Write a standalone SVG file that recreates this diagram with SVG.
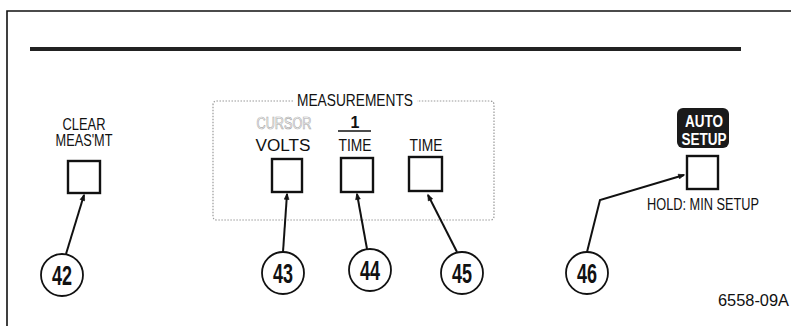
<svg xmlns="http://www.w3.org/2000/svg" width="791" height="326" viewBox="0 0 791 326">
<style>
.lbl{font-family:"Liberation Sans",Arial,sans-serif;font-size:16px;fill:#111;text-anchor:middle}
.num{font-family:"Liberation Sans",Arial,sans-serif;font-size:27px;font-weight:bold;fill:#111;text-anchor:middle}
.btn{fill:#fff;stroke:#111;stroke-width:2.4}
.circ{fill:#fff;stroke:#111;stroke-width:1.8}
.ln{fill:none;stroke:#111;stroke-width:2}
</style>
<defs>
<marker id="ah" viewBox="0 0 10 10" refX="9" refY="5" markerWidth="8" markerHeight="6" markerUnits="userSpaceOnUse" orient="auto">
<path d="M0,1 L10,5 L0,9 Z" fill="#111" stroke="#111" stroke-width="1"/>
</marker>
</defs>
<rect width="791" height="326" fill="#fff"/>
<g id="frame">
<path d="M7,326 V11 H791" fill="none" stroke="#111" stroke-width="1.6"/>
<rect x="30" y="47" width="711" height="4" fill="#222"/>
</g>
<g id="measurements-group">
<path d="M293,101 H217 Q213,101 213,105 V216 Q213,220 217,220 H490 Q494,220 494,216 V105 Q494,101 490,101 H417" fill="none" stroke="#999" stroke-width="1.2" stroke-dasharray="1.5 1.5"/>
<text class="lbl" x="355" y="106" font-size="15" textLength="116" lengthAdjust="spacingAndGlyphs">MEASUREMENTS</text>
</g>
<g id="clear-measmt">
<text class="lbl" x="84" y="130" font-size="14" textLength="43" lengthAdjust="spacingAndGlyphs">CLEAR</text>
<text class="lbl" x="84" y="146" font-size="14" textLength="57" lengthAdjust="spacingAndGlyphs">MEAS'MT</text>
<rect class="btn" x="68" y="161" width="32" height="32"/>
</g>
<g id="cursor-volts">
<text class="lbl" x="284" y="129" font-size="14" stroke="#aaa" stroke-width="0.7" textLength="55" lengthAdjust="spacingAndGlyphs" style="fill:#fff">CURSOR</text>
<text class="lbl" x="283" y="151" textLength="55" lengthAdjust="spacingAndGlyphs">VOLTS</text>
<rect class="btn" x="272" y="159" width="30" height="33"/>
</g>
<g id="one-over-time">
<text class="lbl" x="355" y="128" font-size="14" font-weight="bold">1</text>
<line x1="338" y1="131" x2="371" y2="131" stroke="#111" stroke-width="1.5"/>
<text class="lbl" x="355" y="151" textLength="33" lengthAdjust="spacingAndGlyphs">TIME</text>
<rect class="btn" x="341" y="158" width="32" height="34"/>
</g>
<g id="time">
<text class="lbl" x="426" y="151" textLength="33" lengthAdjust="spacingAndGlyphs">TIME</text>
<rect class="btn" x="409" y="157" width="33" height="34"/>
</g>
<g id="auto-setup">
<rect x="677" y="108" width="52" height="40" rx="6" fill="#1a1a1a"/>
<text class="lbl" x="704" y="127" font-size="18" font-weight="bold" style="fill:#fff" textLength="38" lengthAdjust="spacingAndGlyphs">AUTO</text>
<text class="lbl" x="704" y="145" font-size="18" font-weight="bold" style="fill:#fff" textLength="45" lengthAdjust="spacingAndGlyphs">SETUP</text>
<rect class="btn" x="687" y="156" width="31" height="33"/>
<text class="lbl" x="703" y="210" font-size="12" textLength="112" lengthAdjust="spacingAndGlyphs">HOLD: MIN SETUP</text>
</g>
<g id="connectors">
<line class="ln" x1="66" y1="254" x2="84" y2="195" marker-end="url(#ah)"/>
<line class="ln" x1="283" y1="252" x2="287" y2="194" marker-end="url(#ah)"/>
<line class="ln" x1="367" y1="249" x2="357" y2="194" marker-end="url(#ah)"/>
<line class="ln" x1="457" y1="252" x2="428" y2="195" marker-end="url(#ah)"/>
<polyline class="ln" points="587,252 600,200 684,175" marker-end="url(#ah)"/>
</g>
<g id="c42"><circle class="circ" cx="62" cy="275" r="21"/><text class="num" x="62" y="285" textLength="20" lengthAdjust="spacingAndGlyphs">42</text></g>
<g id="c43"><circle class="circ" cx="283" cy="273" r="21"/><text class="num" x="283" y="283" textLength="20" lengthAdjust="spacingAndGlyphs">43</text></g>
<g id="c44"><circle class="circ" cx="370" cy="270" r="21"/><text class="num" x="370" y="280" textLength="20" lengthAdjust="spacingAndGlyphs">44</text></g>
<g id="c45"><circle class="circ" cx="462" cy="273" r="21"/><text class="num" x="462" y="283" textLength="20" lengthAdjust="spacingAndGlyphs">45</text></g>
<g id="c46"><circle class="circ" cx="587" cy="273" r="21"/><text class="num" x="587" y="283" textLength="20" lengthAdjust="spacingAndGlyphs">46</text></g>
<text class="lbl" x="789" y="306" font-size="13" style="text-anchor:end" textLength="71" lengthAdjust="spacingAndGlyphs">6558-09A</text>
</svg>
